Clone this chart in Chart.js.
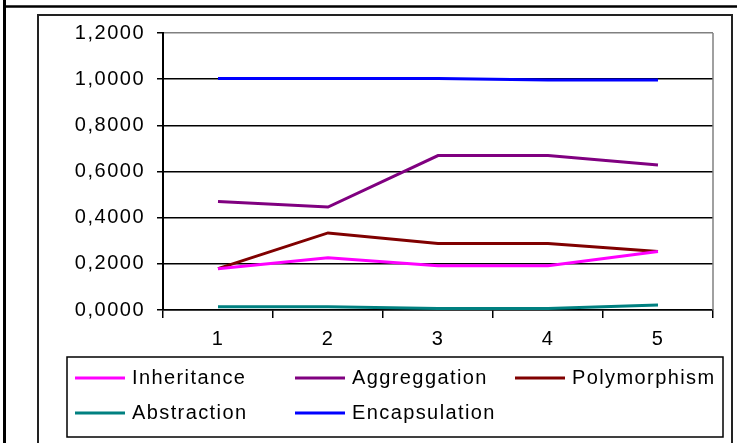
<!DOCTYPE html>
<html>
<head>
<meta charset="utf-8">
<script src="https://cdn.jsdelivr.net/npm/chart.js@4/dist/chart.umd.min.js"></script>
<style>
  html, body { margin: 0; padding: 0; background: #fff; }
  #wrap { width: 737px; height: 443px; position: relative; }
</style>
</head>
<body>
<div id="wrap"><canvas id="c" width="737" height="443"></canvas></div>
<script>
// Measurement rounds shown along the x axis
const categories = ['1', '2', '3', '4', '5'];

// Series values per round
const inheritance   = [0.179, 0.226, 0.192, 0.192, 0.253];
const aggregation   = [0.470, 0.446, 0.669, 0.669, 0.628];
const polymorphism  = [0.179, 0.334, 0.288, 0.288, 0.253];
const abstraction   = [0.0145, 0.0145, 0.007, 0.007, 0.022];
const encapsulation = [1.003, 1.003, 1.003, 0.996, 0.996];

// Y axis tick range
const yTicks = [0, 0.2, 0.4, 0.6, 0.8, 1.0, 1.2];

const FONT = 'Liberation Sans, Arial, sans-serif';

// Outer frame, inner box, plot border and a boxed two-row legend
const framePlugin = {
  id: 'frame',
  beforeDraw(chart) {
    const ctx = chart.ctx;
    ctx.save();
    ctx.fillStyle = '#fff';
    ctx.fillRect(0, 0, chart.width, chart.height);
    ctx.strokeStyle = '#000';
    // outer frame edges
    ctx.lineWidth = 3;
    ctx.beginPath(); ctx.moveTo(4.5, 0); ctx.lineTo(4.5, 443); ctx.stroke();
    ctx.lineWidth = 2.5;
    ctx.beginPath(); ctx.moveTo(4, 6.5); ctx.lineTo(737, 6.5); ctx.stroke();
    // inner chart box
    ctx.lineWidth = 2;
    ctx.strokeStyle = '#222';
    ctx.strokeRect(38, 15, 694, 440);
    ctx.restore();
    // wide-set axis lettering
    ctx.letterSpacing = '1.5px';
  },
  afterDatasetsDraw(chart) {
    const ctx = chart.ctx;
    const a = chart.chartArea;
    ctx.save();
    ctx.strokeStyle = '#808080';
    ctx.lineWidth = 1.5;
    ctx.beginPath(); ctx.moveTo(a.right, a.top); ctx.lineTo(a.right, a.bottom); ctx.stroke();
    ctx.restore();
  },
  afterDraw(chart) {
    const ctx = chart.ctx;
    ctx.save();
    ctx.strokeStyle = '#000';
    ctx.lineWidth = 1.5;
    ctx.strokeRect(67, 357, 656, 80);
    const cols = [75, 295, 515];
    const rows = [378, 413];
    ctx.font = '20px ' + FONT;
    ctx.letterSpacing = '1.4px';
    ctx.textBaseline = 'middle';
    ctx.fillStyle = '#000';
    chart.data.datasets.forEach((ds, i) => {
      const x = cols[i % 3];
      const y = rows[Math.floor(i / 3)];
      ctx.strokeStyle = ds.borderColor;
      ctx.lineWidth = 3;
      ctx.beginPath(); ctx.moveTo(x, y); ctx.lineTo(x + 50, y); ctx.stroke();
      ctx.fillText(ds.label, x + 57, y);
    });
    ctx.restore();
    ctx.letterSpacing = '0px';
  }
};

const line = (label, data, color) => ({
  label, data,
  borderColor: color, backgroundColor: color,
  borderWidth: 3, pointRadius: 0, tension: 0, fill: false
});

new Chart(document.getElementById('c'), {
  type: 'line',
  data: {
    labels: categories,
    datasets: [
      line('Inheritance', inheritance, '#FF00FF'),
      line('Aggreggation', aggregation, '#800080'),
      line('Polymorphism', polymorphism, '#800000'),
      line('Abstraction', abstraction, '#008080'),
      line('Encapsulation', encapsulation, '#0000FF')
    ]
  },
  options: {
    responsive: false,
    animation: false,
    layout: { padding: { top: 33, right: 24, left: 0, bottom: 0 } },
    plugins: { legend: { display: false }, tooltip: { enabled: false }, title: { display: false } },
    scales: {
      x: {
        type: 'category',
        offset: true,
        grid: { offset: true, drawOnChartArea: false, drawTicks: true, tickLength: 8, color: '#000', lineWidth: 1.5 },
        border: { display: true, color: '#000', width: 1.5 },
        ticks: { color: '#000', font: { family: FONT, size: 20 }, padding: 9, maxRotation: 0 },
        afterFit(s) { s.height = 133; }
      },
      y: {
        min: 0, max: 1.2,
        afterBuildTicks(s) { s.ticks = yTicks.map(v => ({ value: v })); },
        grid: {
          color: c => (c.tick && Math.abs(c.tick.value - 1.2) < 1e-9) ? '#808080' : '#000',
          lineWidth: 1.5, tickLength: 6, drawTicks: true, tickColor: '#000'
        },
        border: { display: true, color: '#000', width: 2 },
        ticks: {
          color: '#000', font: { family: FONT, size: 20 }, padding: 12,
          callback: v => Number(v).toFixed(4).replace('.', ',')
        },
        afterFit(s) { s.width = 163; }
      }
    }
  },
  plugins: [framePlugin]
});
</script>
</body>
</html>
